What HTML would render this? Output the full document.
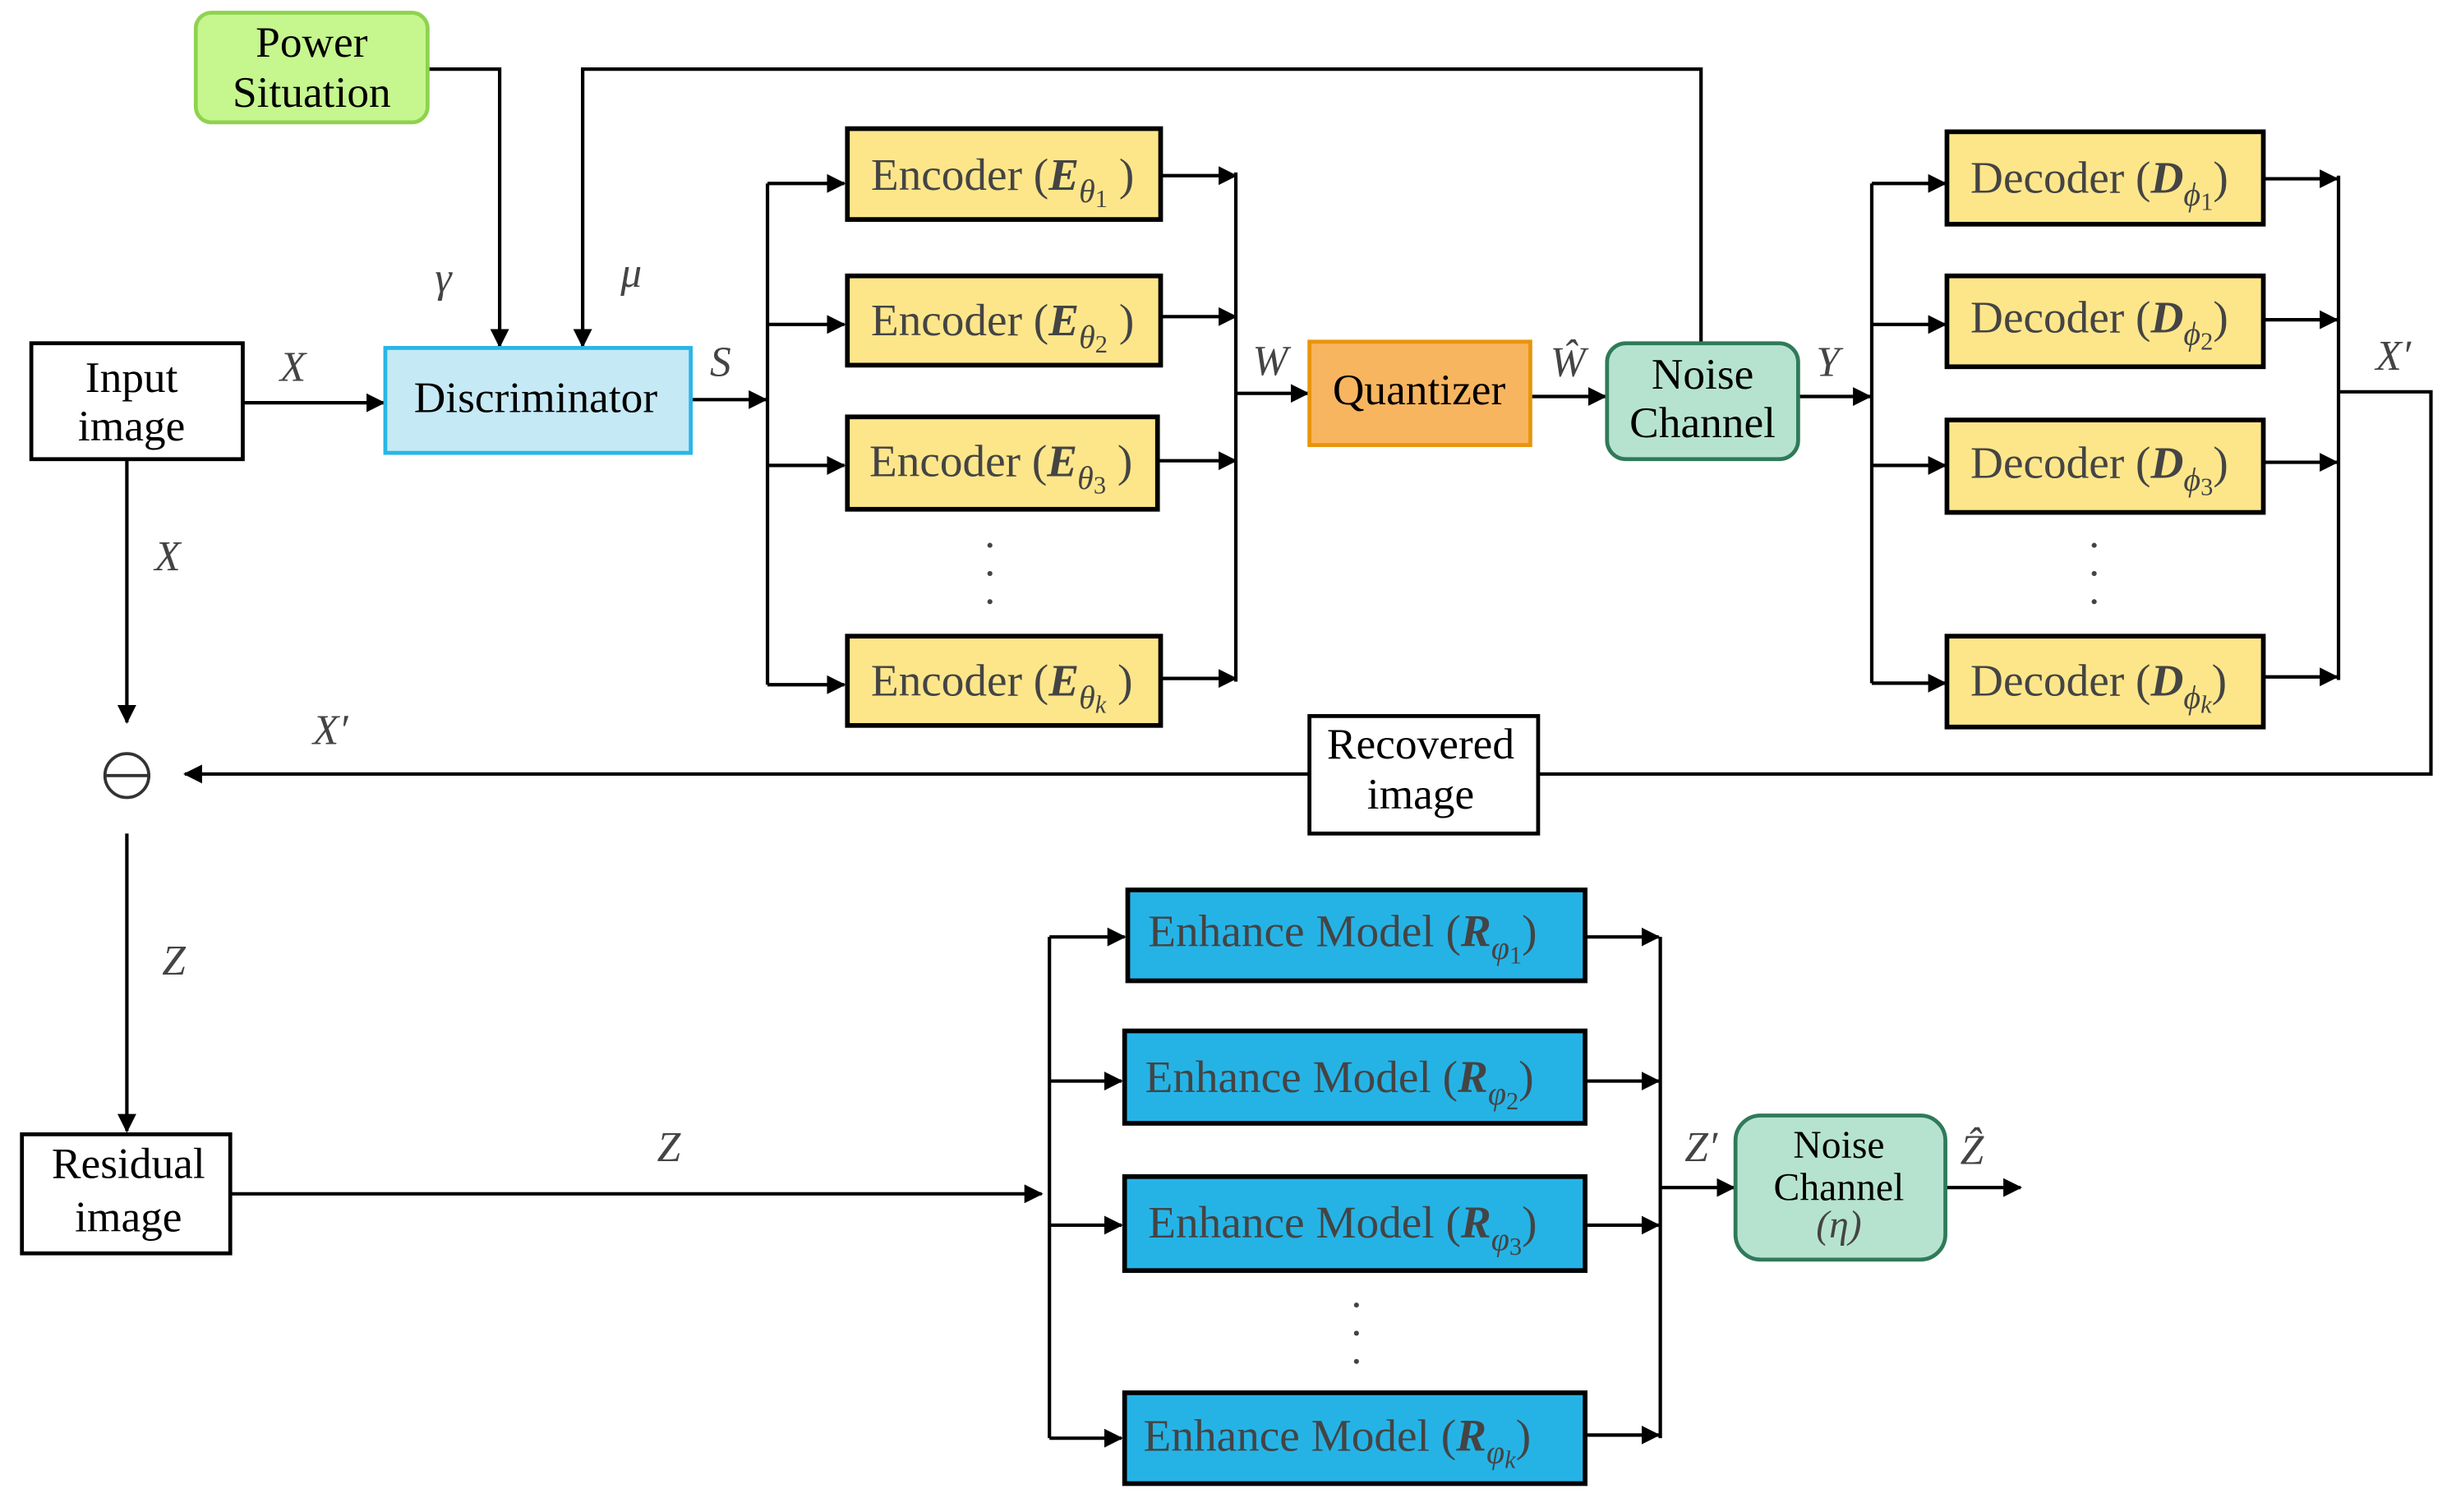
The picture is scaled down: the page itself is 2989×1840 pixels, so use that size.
<!DOCTYPE html>
<html><head><meta charset="utf-8"><style>
html,body{margin:0;padding:0;background:#fff;}
svg{display:block;}
svg text{font-family:"Liberation Serif","Times New Roman","Noto Serif CJK SC","DejaVu Serif Condensed",serif;}
</style></head><body>
<svg width="2989" height="1840" viewBox="0 0 1568 965" xmlns="http://www.w3.org/2000/svg">
<defs>
<marker id="a" markerWidth="12" markerHeight="12" refX="11" refY="6" orient="auto" markerUnits="userSpaceOnUse">
<path d="M0,0 L12,6 L0,12 Z" fill="#000"/></marker>
</defs>
<g stroke="#000" stroke-width="2.2" fill="none">
<polyline points="273,44 319,44 319,221" marker-end="url(#a)"/>
<polyline points="1086,219 1086,44 372,44 372,221" marker-end="url(#a)"/>
<line x1="155" y1="257" x2="245" y2="257" marker-end="url(#a)"/>
<line x1="441" y1="255" x2="489" y2="255" marker-end="url(#a)"/>
<line x1="490" y1="117" x2="490" y2="437"/>
<line x1="490" y1="117" x2="539" y2="117" marker-end="url(#a)"/>
<line x1="490" y1="207" x2="539" y2="207" marker-end="url(#a)"/>
<line x1="490" y1="297" x2="539" y2="297" marker-end="url(#a)"/>
<line x1="490" y1="437" x2="539" y2="437" marker-end="url(#a)"/>
<line x1="741" y1="112" x2="789" y2="112" marker-end="url(#a)"/>
<line x1="741" y1="202" x2="789" y2="202" marker-end="url(#a)"/>
<line x1="739" y1="294" x2="789" y2="294" marker-end="url(#a)"/>
<line x1="741" y1="433" x2="789" y2="433" marker-end="url(#a)"/>
<line x1="789" y1="110" x2="789" y2="435"/>
<line x1="789" y1="251" x2="835" y2="251" marker-end="url(#a)"/>
<line x1="977" y1="253" x2="1025" y2="253" marker-end="url(#a)"/>
<line x1="1148" y1="253" x2="1194" y2="253" marker-end="url(#a)"/>
<line x1="1195" y1="117" x2="1195" y2="436"/>
<line x1="1195" y1="117" x2="1242" y2="117" marker-end="url(#a)"/>
<line x1="1195" y1="207" x2="1242" y2="207" marker-end="url(#a)"/>
<line x1="1195" y1="297" x2="1242" y2="297" marker-end="url(#a)"/>
<line x1="1195" y1="436" x2="1242" y2="436" marker-end="url(#a)"/>
<line x1="1445" y1="114" x2="1492" y2="114" marker-end="url(#a)"/>
<line x1="1445" y1="204" x2="1492" y2="204" marker-end="url(#a)"/>
<line x1="1445" y1="295" x2="1492" y2="295" marker-end="url(#a)"/>
<line x1="1445" y1="432" x2="1492" y2="432" marker-end="url(#a)"/>
<line x1="1493" y1="112" x2="1493" y2="434"/>
<polyline points="1493,250 1552,250 1552,494 982,494"/>
<line x1="836" y1="494" x2="118" y2="494" marker-end="url(#a)"/>
<line x1="81" y1="293" x2="81" y2="461" marker-end="url(#a)"/>
<line x1="81" y1="532" x2="81" y2="722" marker-end="url(#a)"/>
<line x1="147" y1="762" x2="665" y2="762" marker-end="url(#a)"/>
<line x1="670" y1="598" x2="670" y2="918"/>
<line x1="670" y1="598" x2="718" y2="598" marker-end="url(#a)"/>
<line x1="670" y1="690" x2="716" y2="690" marker-end="url(#a)"/>
<line x1="670" y1="782" x2="716" y2="782" marker-end="url(#a)"/>
<line x1="670" y1="918" x2="716" y2="918" marker-end="url(#a)"/>
<line x1="1012" y1="598" x2="1059" y2="598" marker-end="url(#a)"/>
<line x1="1012" y1="690" x2="1059" y2="690" marker-end="url(#a)"/>
<line x1="1012" y1="782" x2="1059" y2="782" marker-end="url(#a)"/>
<line x1="1012" y1="916" x2="1059" y2="916" marker-end="url(#a)"/>
<line x1="1060" y1="598" x2="1060" y2="918"/>
<line x1="1060" y1="758" x2="1107" y2="758" marker-end="url(#a)"/>
<line x1="1242" y1="758" x2="1290" y2="758" marker-end="url(#a)"/>
</g>
<rect x="125" y="8" width="148" height="70" rx="10" fill="#c6f68e" stroke="#8fd24f" stroke-width="2.5"/>
<rect x="20" y="219" width="135" height="74" fill="#fff" stroke="#000" stroke-width="2.5"/>
<rect x="246" y="222" width="195" height="67" fill="#c5e9f5" stroke="#27b6e8" stroke-width="2.5"/>
<g fill="#fde68a" stroke="#000" stroke-width="3">
<rect x="541" y="82" width="200" height="58"/>
<rect x="541" y="176" width="200" height="57"/>
<rect x="541" y="266" width="198" height="59"/>
<rect x="541" y="406" width="200" height="57"/>
<rect x="1243" y="84" width="202" height="59"/>
<rect x="1243" y="176" width="202" height="58"/>
<rect x="1243" y="268" width="202" height="59"/>
<rect x="1243" y="406" width="202" height="58"/>
</g>
<rect x="836" y="218" width="141" height="66" fill="#f8b55f" stroke="#e8940c" stroke-width="2.5"/>
<rect x="1026" y="219" width="122" height="74" rx="12" fill="#b6e3d0" stroke="#2f7a5a" stroke-width="2.5"/>
<rect x="836" y="457" width="146" height="75" fill="#fff" stroke="#000" stroke-width="2.5"/>
<rect x="14" y="724" width="133" height="76" fill="#fff" stroke="#000" stroke-width="2.5"/>
<g fill="#25b3e6" stroke="#000" stroke-width="3">
<rect x="720" y="568" width="292" height="58"/>
<rect x="718" y="658" width="294" height="59"/>
<rect x="718" y="751" width="294" height="60"/>
<rect x="718" y="889" width="294" height="58"/>
</g>
<rect x="1108" y="712" width="134" height="92" rx="16" fill="#b6e3d0" stroke="#2f7a5a" stroke-width="2.5"/>
<circle cx="81" cy="495" r="14" fill="#fff" stroke="#333" stroke-width="2"/>
<line x1="67" y1="495" x2="95" y2="495" stroke="#333" stroke-width="2"/>
<g font-size="28" text-anchor="middle" fill="#000">
<text x="199" y="36">Power</text><text x="199" y="68">Situation</text>
<text x="84" y="250">Input</text><text x="84" y="281">image</text>
<text x="342" y="263">Discriminator</text>
<text x="906" y="258">Quantizer</text>
<text x="1087" y="248">Noise</text><text x="1087" y="279">Channel</text>
<text x="907" y="484">Recovered</text><text x="907" y="516">image</text>
<text x="82" y="752">Residual</text><text x="82" y="786">image</text>
<text x="1174" y="739" font-size="25">Noise</text><text x="1174" y="766" font-size="25">Channel</text>
<text x="1174" y="790" font-size="25" fill="#444" font-style="italic">(η)</text>
</g>
<g font-size="29" fill="#444">
<text x="556" y="121">Encoder (<tspan font-weight="bold" font-style="italic">E</tspan><tspan font-size="21" font-style="italic" dy="8">θ</tspan><tspan font-size="16" dy="3">1</tspan><tspan dy="-11"> )</tspan></text>
<text x="556" y="214">Encoder (<tspan font-weight="bold" font-style="italic">E</tspan><tspan font-size="21" font-style="italic" dy="8">θ</tspan><tspan font-size="16" dy="3">2</tspan><tspan dy="-11"> )</tspan></text>
<text x="555" y="304">Encoder (<tspan font-weight="bold" font-style="italic">E</tspan><tspan font-size="21" font-style="italic" dy="8">θ</tspan><tspan font-size="16" dy="3">3</tspan><tspan dy="-11"> )</tspan></text>
<text x="556" y="444">Encoder (<tspan font-weight="bold" font-style="italic">E</tspan><tspan font-size="21" font-style="italic" dy="8">θ</tspan><tspan font-size="16" font-style="italic" dy="3">k</tspan><tspan dy="-11"> )</tspan></text>
<text x="1258" y="123">Decoder (<tspan font-weight="bold" font-style="italic">D</tspan><tspan font-size="21" font-style="italic" dy="8">ϕ</tspan><tspan font-size="16" dy="3">1</tspan><tspan dy="-11">)</tspan></text>
<text x="1258" y="212">Decoder (<tspan font-weight="bold" font-style="italic">D</tspan><tspan font-size="21" font-style="italic" dy="8">ϕ</tspan><tspan font-size="16" dy="3">2</tspan><tspan dy="-11">)</tspan></text>
<text x="1258" y="305">Decoder (<tspan font-weight="bold" font-style="italic">D</tspan><tspan font-size="21" font-style="italic" dy="8">ϕ</tspan><tspan font-size="16" dy="3">3</tspan><tspan dy="-11">)</tspan></text>
<text x="1258" y="444">Decoder (<tspan font-weight="bold" font-style="italic">D</tspan><tspan font-size="21" font-style="italic" dy="8">ϕ</tspan><tspan font-size="16" font-style="italic" dy="3">k</tspan><tspan dy="-11">)</tspan></text>
<text x="733" y="604">Enhance Model (<tspan font-weight="bold" font-style="italic">R</tspan><tspan font-size="21" font-style="italic" dy="8">φ</tspan><tspan font-size="16" dy="3">1</tspan><tspan dy="-11">)</tspan></text>
<text x="731" y="697">Enhance Model (<tspan font-weight="bold" font-style="italic">R</tspan><tspan font-size="21" font-style="italic" dy="8">φ</tspan><tspan font-size="16" dy="3">2</tspan><tspan dy="-11">)</tspan></text>
<text x="733" y="790">Enhance Model (<tspan font-weight="bold" font-style="italic">R</tspan><tspan font-size="21" font-style="italic" dy="8">φ</tspan><tspan font-size="16" dy="3">3</tspan><tspan dy="-11">)</tspan></text>
<text x="730" y="926">Enhance Model (<tspan font-weight="bold" font-style="italic">R</tspan><tspan font-size="21" font-style="italic" dy="8">φ</tspan><tspan font-size="16" font-style="italic" dy="3">k</tspan><tspan dy="-11">)</tspan></text>
</g>
<g font-size="27" font-style="italic" fill="#444" text-anchor="middle">
<text x="187" y="243">X</text>
<text x="283" y="186">γ</text>
<text x="403" y="183">μ</text>
<text x="460" y="240">S</text>
<text x="811" y="239">W</text>
<text x="1001" y="240">Ŵ</text>
<text x="1167" y="240">Y</text>
<text x="1528" y="236">X′</text>
<text x="211" y="475">X′</text>
<text x="107" y="364">X</text>
<text x="111" y="622">Z</text>
<text x="427" y="741">Z</text>
<text x="1086" y="741">Z′</text>
<text x="1259" y="743">Ẑ</text>
</g>
<g fill="#444">
<circle cx="632" cy="348" r="1.6"/><circle cx="632" cy="366" r="1.6"/><circle cx="632" cy="384" r="1.6"/>
<circle cx="1337" cy="348" r="1.6"/><circle cx="1337" cy="366" r="1.6"/><circle cx="1337" cy="384" r="1.6"/>
<circle cx="866" cy="833" r="1.6"/><circle cx="866" cy="851" r="1.6"/><circle cx="866" cy="869" r="1.6"/>
</g>
</svg>
</body></html>
